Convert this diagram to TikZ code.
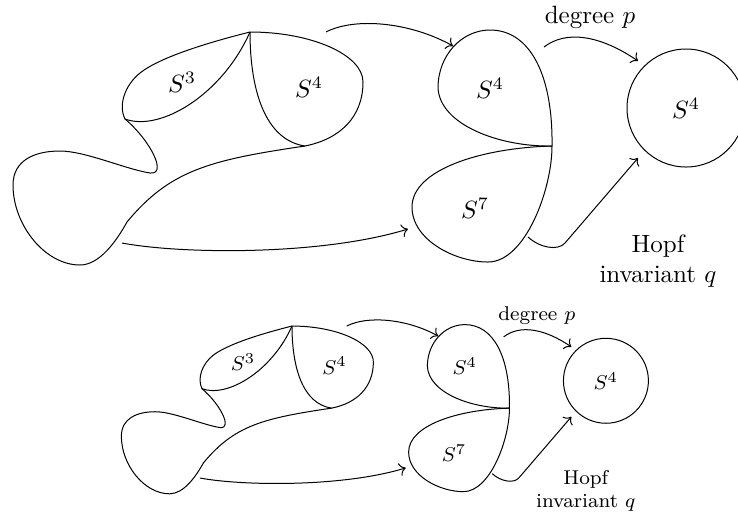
\documentclass[tikz,border=0pt]{standalone}
\usepackage{amsmath}
\usepackage{tikz}
\usetikzlibrary{arrows.meta,positioning}

\begin{document}
\begin{tikzpicture}[
    x=0.4pt, y=-0.4pt,
    outline/.style={draw=black, thin, line join=round},
    arrow/.style={->, thin},
    bundle/.pic={
      % Total space
      \coordinate (j) at (250,32);
      \coordinate (neck) at (125,119);
      \coordinate (kink) at (127,222);
      \coordinate (lobe) at (305,146);
      \draw [outline] (j) .. controls (312,32) and (363,55) .. (363,82)
        .. controls (363,117) and (340,139) .. (lobe)
        .. controls (210,160) and (170,170) .. (kink)
        .. controls (117,240) and (100,265) .. (80,265)
        .. controls (45,265) and (13,225) .. (13,185)
        .. controls (13,160) and (35,151) .. (60,151)
        .. controls (85,151) and (125,169) .. (150,173)
        .. controls (168,175) and (150,140) .. (neck)
        .. controls (118,105) and (125,85) .. (140,73)
        .. controls (160,57) and (210,42) .. (j);
      \draw [outline] (neck) .. controls (160,132) and (222,95) .. (j);
      \draw [outline] (j) .. controls (250,90) and (265,140) .. (lobe);
      \node (sthree) at (182,82) {$S^3$};
      \node (sfoura) at (309,87) {$S^4$};
      % Wedge of spheres
      \coordinate (k) at (552,146);
      \draw [outline] (k) .. controls (500,147) and (440,125) .. (438,88)
        .. controls (438,55) and (462,30) .. (490,30)
        .. controls (530,30) and (553,75) .. (k);
      \draw [outline] (k) .. controls (480,148) and (412,170) .. (412,207)
        .. controls (412,240) and (455,262) .. (488,262)
        .. controls (525,262) and (552,190) .. (k);
      \node (sfourb) at (490,88) {$S^4$};
      \node (sseven) at (475,208) {$S^7$};
      % Base
      \node (base) at (686,108) {$S^4$};
      \draw [outline] (base.center) circle[radius=59];
      % Arrows
      \coordinate (pa1) at (326,32);
      \coordinate (pa2) at (453,46);
      \coordinate (pb1) at (122,243);
      \coordinate (pb2) at (408,229);
      \coordinate (pc1) at (544,47);
      \coordinate (pc2) at (638,61);
      \coordinate (pd1) at (528,237);
      \coordinate (pd2) at (638,158);
      \draw [arrow] (pa1) .. controls +(29,-15) and +(-43,-24) .. (pa2);
      \draw [arrow] (pb1) .. controls +(58,11) and +(-88,27) .. (pb2);
      \draw [arrow] (pc1) .. controls +(22,-17) and +(-38,-26) .. (pc2);
      \draw [arrow] (pd1) .. controls +(12,11) and +(-7,8) .. ++(37,6) -- (pd2);
      \node (deg) at (590,17) {degree $p$};
      \node (hopf) [align=center] at (658,261) {Hopf\\invariant $q$};
    }
]
  \useasboundingbox (0,0) rectangle (738,516);
  \pic at (0,0) {bundle};
  \pic [scale=0.72, font=\footnotesize] at (112,303) {bundle};
\end{tikzpicture}
\end{document}
